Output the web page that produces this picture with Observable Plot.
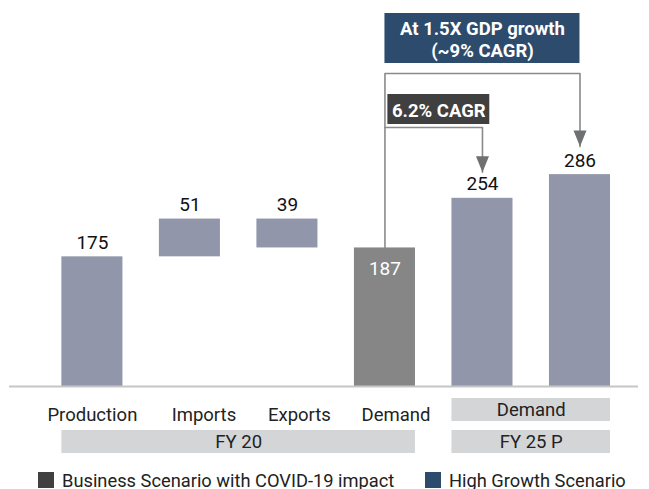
<!DOCTYPE html>
<html>
<head>
<meta charset="utf-8">
<script src="https://cdn.jsdelivr.net/npm/d3@7"></script>
<script src="https://cdn.jsdelivr.net/npm/@observablehq/plot@0.6"></script>
<style>
  html, body { margin: 0; padding: 0; background: #fff; }
  body { position: relative; width: 649px; height: 489px; overflow: hidden; font-family: Roboto, "Noto Sans", sans-serif; }
  #legend { position: absolute; left: 0; top: 471px; width: 649px; height: 18px; font-size: 18.3px; color: #222; }
  .item { position: absolute; top: 0; display: flex; align-items: center; height: 18px; white-space: nowrap; }
  .sw { width: 16px; height: 16px; margin-right: 8px; display: inline-block; }
</style>
</head>
<body>
<div id="chart"></div>
<div id="legend"></div>
<script>
// ---- data ----
const categories = ["Production", "Imports", "Exports", "Demand", "Demand", "Demand"];
const values = [175, 51, 39, 187, 254, 286];
const steps = ["total", "up", "down", "total", "total", "total"];
const scenario = ["base", "base", "base", "covid", "base", "base"];
const groups = ["FY 20", "FY 25 P"];
const groupFirst = [0, 4];
const groupLast = [3, 5];
const boxedCategoryGroup = [1]; // FY 25 P category label sits in a grey box
const annotationTexts = ["6.2% CAGR", "At 1.5X GDP growth\n(~9% CAGR)"];
const annotationTargets = [4, 5];
const legendLabels = ["Business Scenario with COVID-19 impact", "High Growth Scenario"];

// ---- styling / layout ----
const barColor = "#9196ab";
const covidColor = "#868686";
const darkBox = "#404040";
const blueBox = "#2d4b6d";
const lineColor = "#8a8a8a";
const greyBox = "#d4d5d7";
const hw = 0.313; // half bar width (in category steps)
const labelShift = [0, 14, 12, 11, 0, 0]; // px nudges of the category labels

// ---- waterfall build ----
let run = 0;
const bars = values.map((v, i) => {
  let y1, y2;
  if (steps[i] === "total") { y1 = 0; y2 = v; run = v; }
  else if (steps[i] === "up") { y1 = run; y2 = run + v; run += v; }
  else { y1 = run - v; y2 = run; run -= v; }
  return {i, cat: categories[i], value: v, y1, y2, scen: scenario[i], group: groupFirst.findIndex((f, g) => i >= f && i <= groupLast[g])};
});

const yMax = 521, plotBottom = 386;
const U = yMax / plotBottom; // data units per pixel (for annotation placement)

const grp = groups.map((g, k) => ({g, first: groupFirst[k], last: groupLast[k]}));
const boxedCats = grp.filter((d, k) => boxedCategoryGroup.includes(k));

const demandIdx = 3;
// annotation geometry
const ann = [
  {text: annotationTexts[0], target: annotationTargets[0], level: (plotBottom - 127) * U, tipGap: 26,
   bx1: demandIdx + 0.03, bx2: annotationTargets[0] + 0.075, by1: (plotBottom - 124) * U, by2: (plotBottom - 94) * U, fill: darkBox},
  {text: annotationTexts[1], target: annotationTargets[1], level: (plotBottom - 73) * U, tipGap: 28,
   bx1: demandIdx, bx2: annotationTargets[1], by1: (plotBottom - 63) * U, by2: (plotBottom - 13) * U, fill: blueBox}
];
ann.forEach(a => { a.tip = values[a.target] + a.tipGap * U; });

const paths = [];
ann.forEach((a, k) => {
  const startY = k === 1 ? bars[demandIdx].y2 : a.level;
  paths.push({k, x: demandIdx, y: startY});
  paths.push({k, x: demandIdx, y: a.level});
  paths.push({k, x: a.target, y: a.level});
  paths.push({k, x: a.target, y: a.tip});
});

const arrowSym = {
  draw(ctx) { ctx.moveTo(-6.5, -16); ctx.lineTo(6.5, -16); ctx.lineTo(0, 0); ctx.closePath(); }
};

const catLabelMarks = bars
  .filter(d => !boxedCategoryGroup.includes(d.group))
  .map(d => Plot.text([d], {x: "i", y: 0, dy: 29, dx: labelShift[d.i], text: "cat", fontSize: 18.5, fill: "#222"}));

const chart = Plot.plot({
  width: 649,
  height: 468,
  marginLeft: 9,
  marginRight: 11,
  marginTop: 0,
  marginBottom: 82,
  x: {domain: [-0.85, 5.6], axis: null},
  y: {domain: [0, yMax], axis: null},
  style: {fontFamily: "Roboto, sans-serif", background: "#fff", overflow: "visible"},
  marks: [
    // bars
    Plot.rect(bars, {x1: d => d.i - hw, x2: d => d.i + hw, y1: "y1", y2: "y2",
      fill: d => d.scen === "covid" ? covidColor : barColor}),
    Plot.ruleY([0], {stroke: "#c6c6c6", strokeWidth: 2}),
    // value labels
    Plot.text(bars.filter(d => d.scen !== "covid"), {x: "i", y: "y2", text: d => String(d.value),
      lineAnchor: "bottom", dy: -8, fontSize: 19, fill: "#111"}),
    Plot.text(bars.filter(d => d.scen === "covid"), {x: "i", y: "y2", text: d => String(d.value),
      lineAnchor: "top", dy: 14, fontSize: 19, fill: "#fff"}),
    // category boxes & labels
    Plot.rect(boxedCats, {x1: d => d.first - hw, x2: d => d.last + hw, y1: -12 * U, y2: -35 * U, fill: greyBox}),
    ...catLabelMarks,
    Plot.text(boxedCats, {x: d => (d.first + d.last) / 2, y: 0, dy: 24, text: d => categories[d.first], fontSize: 18.5, fill: "#222"}),
    // group boxes & labels
    Plot.rect(grp, {x1: d => d.first - hw, x2: d => d.last + hw, y1: -44 * U, y2: -67 * U, fill: greyBox}),
    Plot.text(grp, {x: d => (d.first + d.last) / 2, y: 0, dy: 56, text: "g", fontSize: 18.5, fill: "#222"}),
    // connectors
    Plot.line(paths, {x: "x", y: "y", z: "k", stroke: lineColor, strokeWidth: 1.6, curve: "linear"}),
    Plot.dot(ann, {x: "target", y: "tip", symbol: arrowSym, fill: "#6f7072", stroke: null}),
    // annotation boxes
    Plot.rect(ann, {x1: "bx1", x2: "bx2", y1: "by1", y2: "by2", fill: "fill"}),
    Plot.text(ann, {x: d => (d.bx1 + d.bx2) / 2, y: d => (d.by1 + d.by2) / 2, text: "text",
      fill: "#fff", fontWeight: "bold", fontSize: 18.5, lineHeight: 1.2})
  ]
});
document.getElementById("chart").appendChild(chart);

// legend
const legend = document.getElementById("legend");
const legendColors = [darkBox, blueBox];
const legendX = [38, 425];
legendLabels.forEach((t, k) => {
  const it = document.createElement("div");
  it.className = "item";
  it.style.left = legendX[k] + "px";
  it.innerHTML = `<span class="sw" style="background:${legendColors[k]}"></span><span>${t}</span>`;
  legend.appendChild(it);
});
</script>
</body>
</html>
